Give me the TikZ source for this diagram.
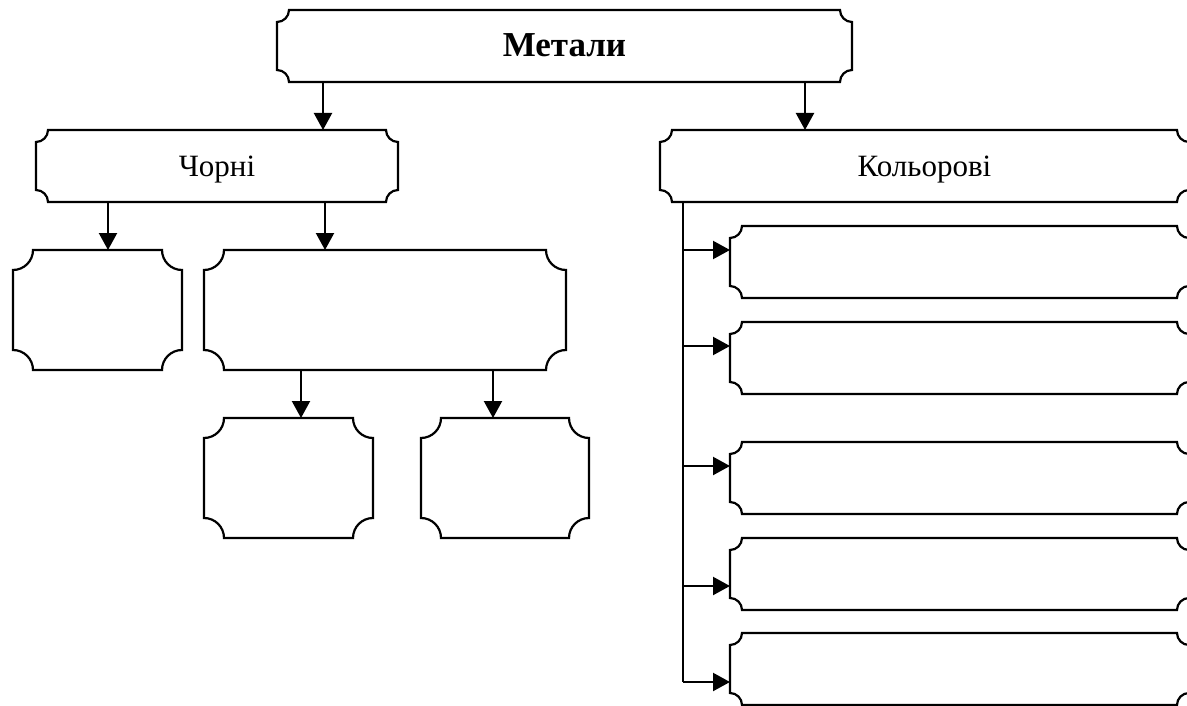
\documentclass[tikz,border=0pt]{standalone}
\usepackage{fontspec}
\setmainfont{Liberation Serif}
\usetikzlibrary{arrows.meta}
\tikzset{
  ln/.style={line width=2.2pt, black},
  arr/.style={ln, -{Triangle[width=18pt,length=17pt]}},
  plq/.style={draw=none, inner sep=0pt, outer sep=0pt, text height=22pt, text depth=0pt, font=\fontsize{31}{36}\selectfont},
}
\newcommand\plaqueout[2]{%
  \draw[ln] ([xshift=#2]#1.north west) -- ([xshift=-#2]#1.north east)
    arc[start angle=180,end angle=270,radius=#2]
    -- ([yshift=#2]#1.south east)
    arc[start angle=90,end angle=180,radius=#2]
    -- ([xshift=#2]#1.south west)
    arc[start angle=0,end angle=90,radius=#2]
    -- ([yshift=-#2]#1.north west)
    arc[start angle=270,end angle=360,radius=#2] -- cycle;}
\begin{document}
\begin{tikzpicture}[x=1pt,y=-1pt]
\useasboundingbox (0,0) rectangle (1187,706);
\fill[white] (0,0) rectangle (1187,706);
\clip (0,0) rectangle (1187,706);
% boxes
\node[plq, minimum width=575pt, minimum height=72pt, font=\fontsize{35}{40}\selectfont\bfseries] (met) at (564.5,46) {Метали};
\node[plq, minimum width=362pt, minimum height=72pt] (chor) at (217,166) {Чорні};
\node[plq, minimum width=529pt, minimum height=72pt] (kol) at (924.5,166) {Кольорові};
\node[plq, minimum width=169pt, minimum height=120pt] (c1) at (97.5,310) {};
\node[plq, minimum width=362pt, minimum height=120pt] (c2) at (385,310) {};
\node[plq, minimum width=169pt, minimum height=120pt] (c3) at (288.5,478) {};
\node[plq, minimum width=168pt, minimum height=120pt] (c4) at (505,478) {};
\node[plq, minimum width=459pt, minimum height=72pt] (k1) at (959.5,262) {};
\node[plq, minimum width=459pt, minimum height=72pt] (k2) at (959.5,358) {};
\node[plq, minimum width=459pt, minimum height=72pt] (k3) at (959.5,478) {};
\node[plq, minimum width=459pt, minimum height=72pt] (k4) at (959.5,574) {};
\node[plq, minimum width=459pt, minimum height=72pt] (k5) at (959.5,669) {};
\foreach \n in {met,chor,kol,k1,k2,k3,k4,k5} {\plaqueout{\n}{12pt}}
\foreach \n in {c1,c2,c3,c4} {\plaqueout{\n}{20pt}}
% connector x positions
\coordinate (xa) at (323,0);
\coordinate (xb) at (805,0);
\coordinate (xc) at (108,0);
\coordinate (xd) at (325,0);
\coordinate (xe) at (301,0);
\coordinate (xf) at (493,0);
\draw[arr] (met.south -| xa) -- (chor.north -| xa);
\draw[arr] (met.south -| xb) -- (kol.north -| xb);
\draw[arr] (chor.south -| xc) -- (c1.north -| xc);
\draw[arr] (chor.south -| xd) -- (c2.north -| xd);
\draw[arr] (c2.south -| xe) -- (c3.north -| xe);
\draw[arr] (c2.south -| xf) -- (c4.north -| xf);
% trunk
\coordinate (t1) at (683,250);
\coordinate (t2) at (683,346);
\coordinate (t3) at (683,466);
\coordinate (t4) at (683,586);
\coordinate (t5) at (683,682);
\draw[ln] (kol.south -| t5) -- (t5);
\foreach \i in {1,...,5} {\draw[arr] (t\i) -- (t\i -| k\i.west);}
\end{tikzpicture}
\end{document}
